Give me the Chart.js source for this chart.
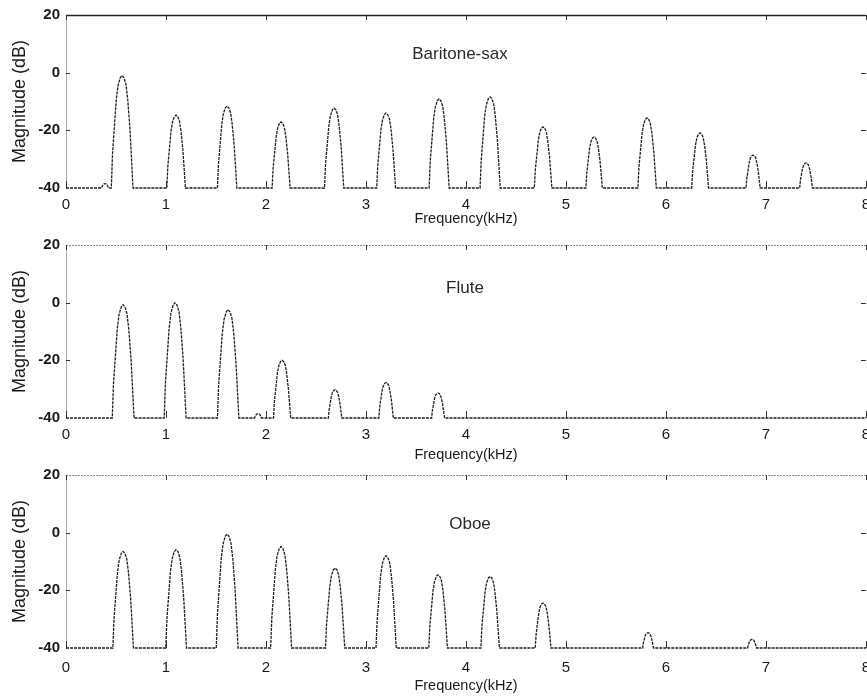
<!DOCTYPE html>
<html><head><meta charset="utf-8">
<script src="https://cdn.jsdelivr.net/npm/chart.js@4/dist/chart.umd.min.js"></script>
<style>
html,body{margin:0;padding:0;background:#fff;overflow:hidden;width:867px;height:696px;position:relative}
.w{position:absolute;left:0;width:886px;height:250px}
canvas{display:block}
</style></head><body>
<div class="w" style="top:0"><canvas id="c0" width="886" height="250"></canvas></div>
<div class="w" style="top:230px"><canvas id="c1" width="886" height="250"></canvas></div>
<div class="w" style="top:460px"><canvas id="c2" width="886" height="250"></canvas></div>
<script>
// ---- data ----
const instrumentNames = ['Baritone-sax', 'Flute', 'Oboe'];
const baritoneFreq = [0.39, 0.56, 1.10, 1.61, 2.15, 2.68, 3.20, 3.73, 4.24, 4.77, 5.28, 5.81, 6.34, 6.87, 7.40];
const baritoneDb   = [-38.5, -1, -14.7, -11.6, -17.1, -12.3, -14, -9.1, -8.4, -18.8, -22.3, -15.7, -20.9, -28.6, -31.3];
const fluteFreq = [0.57, 1.09, 1.62, 1.92, 2.16, 2.69, 3.20, 3.72];
const fluteDb   = [-0.7, 0, -2.4, -38.5, -20, -30.2, -27.7, -31.3];
const oboeFreq = [0.57, 1.10, 1.61, 2.15, 2.69, 3.20, 3.72, 4.24, 4.77, 5.82, 6.86];
const oboeDb   = [-6.5, -5.9, -0.5, -4.8, -12.3, -8, -14.6, -15.2, -24.4, -34.7, -37];
const xTickValues = [0, 1, 2, 3, 4, 5, 6, 7, 8];
const yTickValues = [-40, -20, 0, 20];
const xTitle = 'Frequency(kHz)';
const yTitle = 'Magnitude (dB)';

// ---- drawing style ----
const FLOOR = -40;
// hump outline: [offset kHz, fraction of height] (style of each spectral peak)
const humpShape = [[-0.107,0],[-0.095,0.3],[-0.078,0.52],[-0.058,0.78],[-0.04,0.91],[-0.018,0.98],[0,1],[0.02,0.98],[0.04,0.92],[0.058,0.78],[0.08,0.52],[0.094,0.28],[0.11,0]];

function buildSpectrum(freqs, dbs) {
  const pts = [{x: 0, y: FLOOR}];
  freqs.forEach((f, i) => {
    const h = dbs[i] - FLOOR;
    const s = Math.max(0.3, Math.pow(h / 39, 0.35));
    humpShape.forEach(([dx, fr]) => pts.push({x: f + dx * s, y: FLOOR + fr * h}));
  });
  pts.push({x: 8, y: FLOOR});
  pts.sort((a, b) => a.x - b.x);
  return pts;
}

const TXT = '#1a1a1a';
const FONT = '"Liberation Sans", Arial, sans-serif';
const frame = {
  id: 'frame',
  afterDatasetsDraw(chart, args, o) {
    const {ctx, chartArea: a, scales: {x, y}} = chart;
    ctx.save();
    ctx.strokeStyle = o.topColor; ctx.lineWidth = o.topWidth;
    ctx.setLineDash(o.topDash);
    ctx.beginPath(); ctx.moveTo(a.left, a.top + 0.5); ctx.lineTo(a.right, a.top + 0.5); ctx.stroke();
    ctx.setLineDash([]);
    ctx.strokeStyle = '#333'; ctx.lineWidth = 1;
    x.ticks.forEach(t => {
      const px = Math.round(x.getPixelForValue(t.value)) + 0.5;
      ctx.beginPath(); ctx.moveTo(px, a.top); ctx.lineTo(px, a.top + 5);
      ctx.moveTo(px, a.bottom); ctx.lineTo(px, a.bottom - 7); ctx.stroke();
    });
    y.ticks.forEach(t => {
      if (t.value === 20 || t.value === -40) return;
      const py = Math.round(y.getPixelForValue(t.value)) + 0.5;
      ctx.beginPath(); ctx.moveTo(a.left, py); ctx.lineTo(a.left + 4, py);
      ctx.moveTo(a.right, py); ctx.lineTo(a.right - 5, py); ctx.stroke();
    });
    ctx.fillStyle = '#2a2a2a';
    ctx.font = '17px ' + FONT;
    ctx.textAlign = 'center'; ctx.textBaseline = 'middle';
    ctx.fillText(o.label, x.getPixelForValue(o.lx), y.getPixelForValue(o.ly));
    ctx.restore();
  }
};

function makeChart(id, freqs, dbs, name, cfg) {
  new Chart(document.getElementById(id), {
    type: 'line',
    data: {datasets: [{
      data: buildSpectrum(freqs, dbs),
      borderColor: '#1e1e1e', borderWidth: 1.3, borderDash: [3, 1],
      pointRadius: 0, tension: 0, fill: false, clip: 4
    }]},
    options: {
      responsive: false, animation: false,
      layout: {padding: {top: 15, left: 0, right: 20, bottom: 0}},
      plugins: {
        legend: {display: false}, tooltip: {enabled: false},
        frame: {label: name, lx: cfg.lx, ly: cfg.ly, topColor: cfg.topColor, topWidth: cfg.topWidth, topDash: cfg.topDash}
      },
      scales: {
        x: {
          type: 'linear', min: 0, max: 8,
          afterBuildTicks: s => { s.ticks = xTickValues.map(v => ({value: v})); },
          afterFit: s => { s.height = 62; },
          grid: {display: false, drawTicks: false},
          border: {display: false},
          ticks: {padding: cfg.xPad, color: TXT, font: {family: FONT, size: 15}, maxRotation: 0, autoSkip: false},
          title: {display: true, text: xTitle, color: TXT, padding: {top: 0, bottom: cfg.tPad},
                  font: {family: FONT, size: 14.5}}
        },
        y: {
          type: 'linear', min: -40, max: 20,
          afterBuildTicks: s => { s.ticks = yTickValues.map(v => ({value: v})); },
          afterFit: s => { s.width = 66; },
          grid: {display: false, drawTicks: false},
          border: {display: true, color: '#aaa', width: 1, dash: [1, 1]},
          ticks: {padding: 6, color: TXT, font: {family: FONT, size: 15, weight: 'bold'}},
          title: {display: true, text: yTitle, color: TXT, padding: {top: 9, bottom: 0},
                  font: {family: FONT, size: 18}}
        }
      }
    },
    plugins: [frame]
  });
}

makeChart('c0', baritoneFreq, baritoneDb, instrumentNames[0], {lx: 3.94, ly: 6.5, xPad: 8, tPad: 22, topColor: '#222', topWidth: 1.5, topDash: []});
makeChart('c1', fluteFreq, fluteDb, instrumentNames[1], {lx: 3.99, ly: 5.1, xPad: 8, tPad: 16, topColor: '#888', topWidth: 1, topDash: [2, 1]});
makeChart('c2', oboeFreq, oboeDb, instrumentNames[2], {lx: 4.04, ly: 3.0, xPad: 11, tPad: 15, topColor: '#888', topWidth: 1, topDash: [2, 1]});
</script>
</body></html>
